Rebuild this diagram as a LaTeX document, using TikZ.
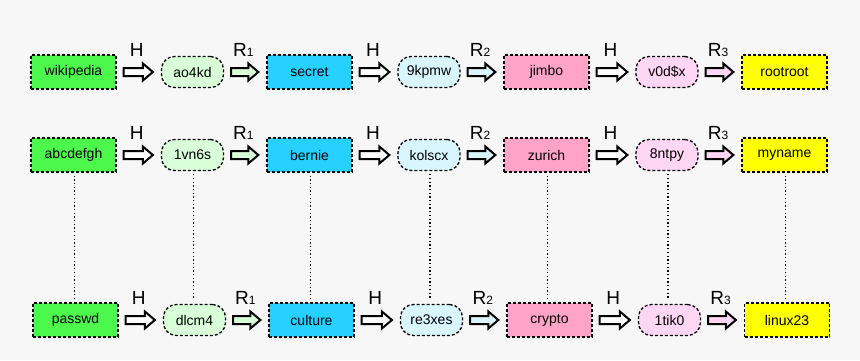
\documentclass[tikz,border=0pt]{standalone}
\usepackage{fontspec}
\setmainfont{Liberation Sans}
\usetikzlibrary{calc}
\definecolor{bg}{HTML}{F7F7F7}
\definecolor{gbox}{HTML}{4CF84C}
\definecolor{glite}{HTML}{D9FFD9}
\definecolor{cbox}{HTML}{26D0FF}
\definecolor{clite}{HTML}{D9F6FF}
\definecolor{pbox}{HTML}{FFA3C8}
\definecolor{plite}{HTML}{FFD6F4}
\definecolor{ybox}{HTML}{FFFF00}
\tikzset{
  base/.style={draw=black, line width=1.3pt, dash pattern=on 3pt off 2pt, font=\fontsize{14}{16}\selectfont, text=black, inner sep=0pt},
  pw/.style={base, rectangle, minimum width=85pt, minimum height=34pt},
  hs/.style={base, rounded corners=13pt, minimum width=62pt, minimum height=31pt},
  blk/.style={draw=black, line width=2pt, line join=miter},
  lbl/.style={font=\fontsize{19}{22}\selectfont, anchor=base, inner sep=0pt, text=black},
  link/.style={draw=black, line width=1.3pt, dash pattern=on 1.3pt off 2.4pt, shorten <=3pt, shorten >=4pt}
}
\newcommand{\Rsub}[1]{R{\fontsize{12}{12}\selectfont #1}}
\newcommand{\mkarrow}[5]{%
  \draw[blk, fill=#3] let \p1=(#1.east), \p2=(#2.west) in
    (\x1+7pt,\y1+4pt) -- (\x2-18pt,\y1+4pt) -- (\x2-18pt,\y1+8.5pt) -- (\x2-8pt,\y1)
    -- (\x2-18pt,\y1-8.5pt) -- (\x2-18pt,\y1-4pt) -- (\x1+7pt,\y1-4pt) -- cycle;
  \node[lbl] (#5) at ($(#1.east)!0.5!(#2.west)+(-2pt,16pt)$) {#4};
}
\begin{document}
\begin{tikzpicture}[x=1pt,y=-1pt]
\fill[bg] (0,0) rectangle (860,360);
\useasboundingbox (0,0) rectangle (860,360);
% row 1
\node[pw, fill=gbox] (a1) at (73.5,72) {wikipedia};
\node[hs, fill=glite] (a2) at (192.5,72) {ao4kd};
\node[pw, fill=cbox] (a3) at (309.5,72) {secret};
\node[hs, fill=clite] (a4) at (429,72) {9kpmw};
\node[pw, fill=pbox] (a5) at (546.5,72) {jimbo};
\node[hs, fill=plite] (a6) at (667,72) {v0d\$x};
\node[pw, fill=ybox] (a7) at (784.5,72) {rootroot};
% row 2
\node[pw, fill=gbox] (b1) at (73.5,155) {abcdefgh};
\node[hs, fill=glite] (b2) at (192.5,155) {1vn6s};
\node[pw, fill=cbox] (b3) at (309.5,155) {bernie};
\node[hs, fill=clite] (b4) at (429,155) {kolscx};
\node[pw, fill=pbox] (b5) at (546.5,155) {zurich};
\node[hs, fill=plite] (b6) at (667,155) {8ntpy};
\node[pw, fill=ybox] (b7) at (784.5,155) {myname};
% row 3
\node[pw, fill=gbox] (c1) at (75.5,320) {passwd};
\node[hs, fill=glite] (c2) at (194.5,320) {dlcm4};
\node[pw, fill=cbox] (c3) at (311.5,320) {culture};
\node[hs, fill=clite] (c4) at (431.5,320) {re3xes};
\node[pw, fill=pbox] (c5) at (549.5,320) {crypto};
\node[hs, fill=plite] (c6) at (669.5,320) {1tik0};
\node[pw, fill=ybox] (c7) at (787,320) {linux23};
% arrows
\foreach \r in {a,b,c}{
  \mkarrow{\r1}{\r2}{white}{H}{\r h1}
  \mkarrow{\r2}{\r3}{glite}{\Rsub{1}}{\r r1}
  \mkarrow{\r3}{\r4}{white}{H}{\r h2}
  \mkarrow{\r4}{\r5}{clite}{\Rsub{2}}{\r r2}
  \mkarrow{\r5}{\r6}{white}{H}{\r h3}
  \mkarrow{\r6}{\r7}{plite}{\Rsub{3}}{\r r3}
}
% dotted links
\foreach \i in {1,...,7}{
  \draw[link] ($(b\i.south)+(1pt,0)$) -- ($(b\i.south |- c\i.north)+(1pt,0)$);
}
\end{tikzpicture}
\end{document}
